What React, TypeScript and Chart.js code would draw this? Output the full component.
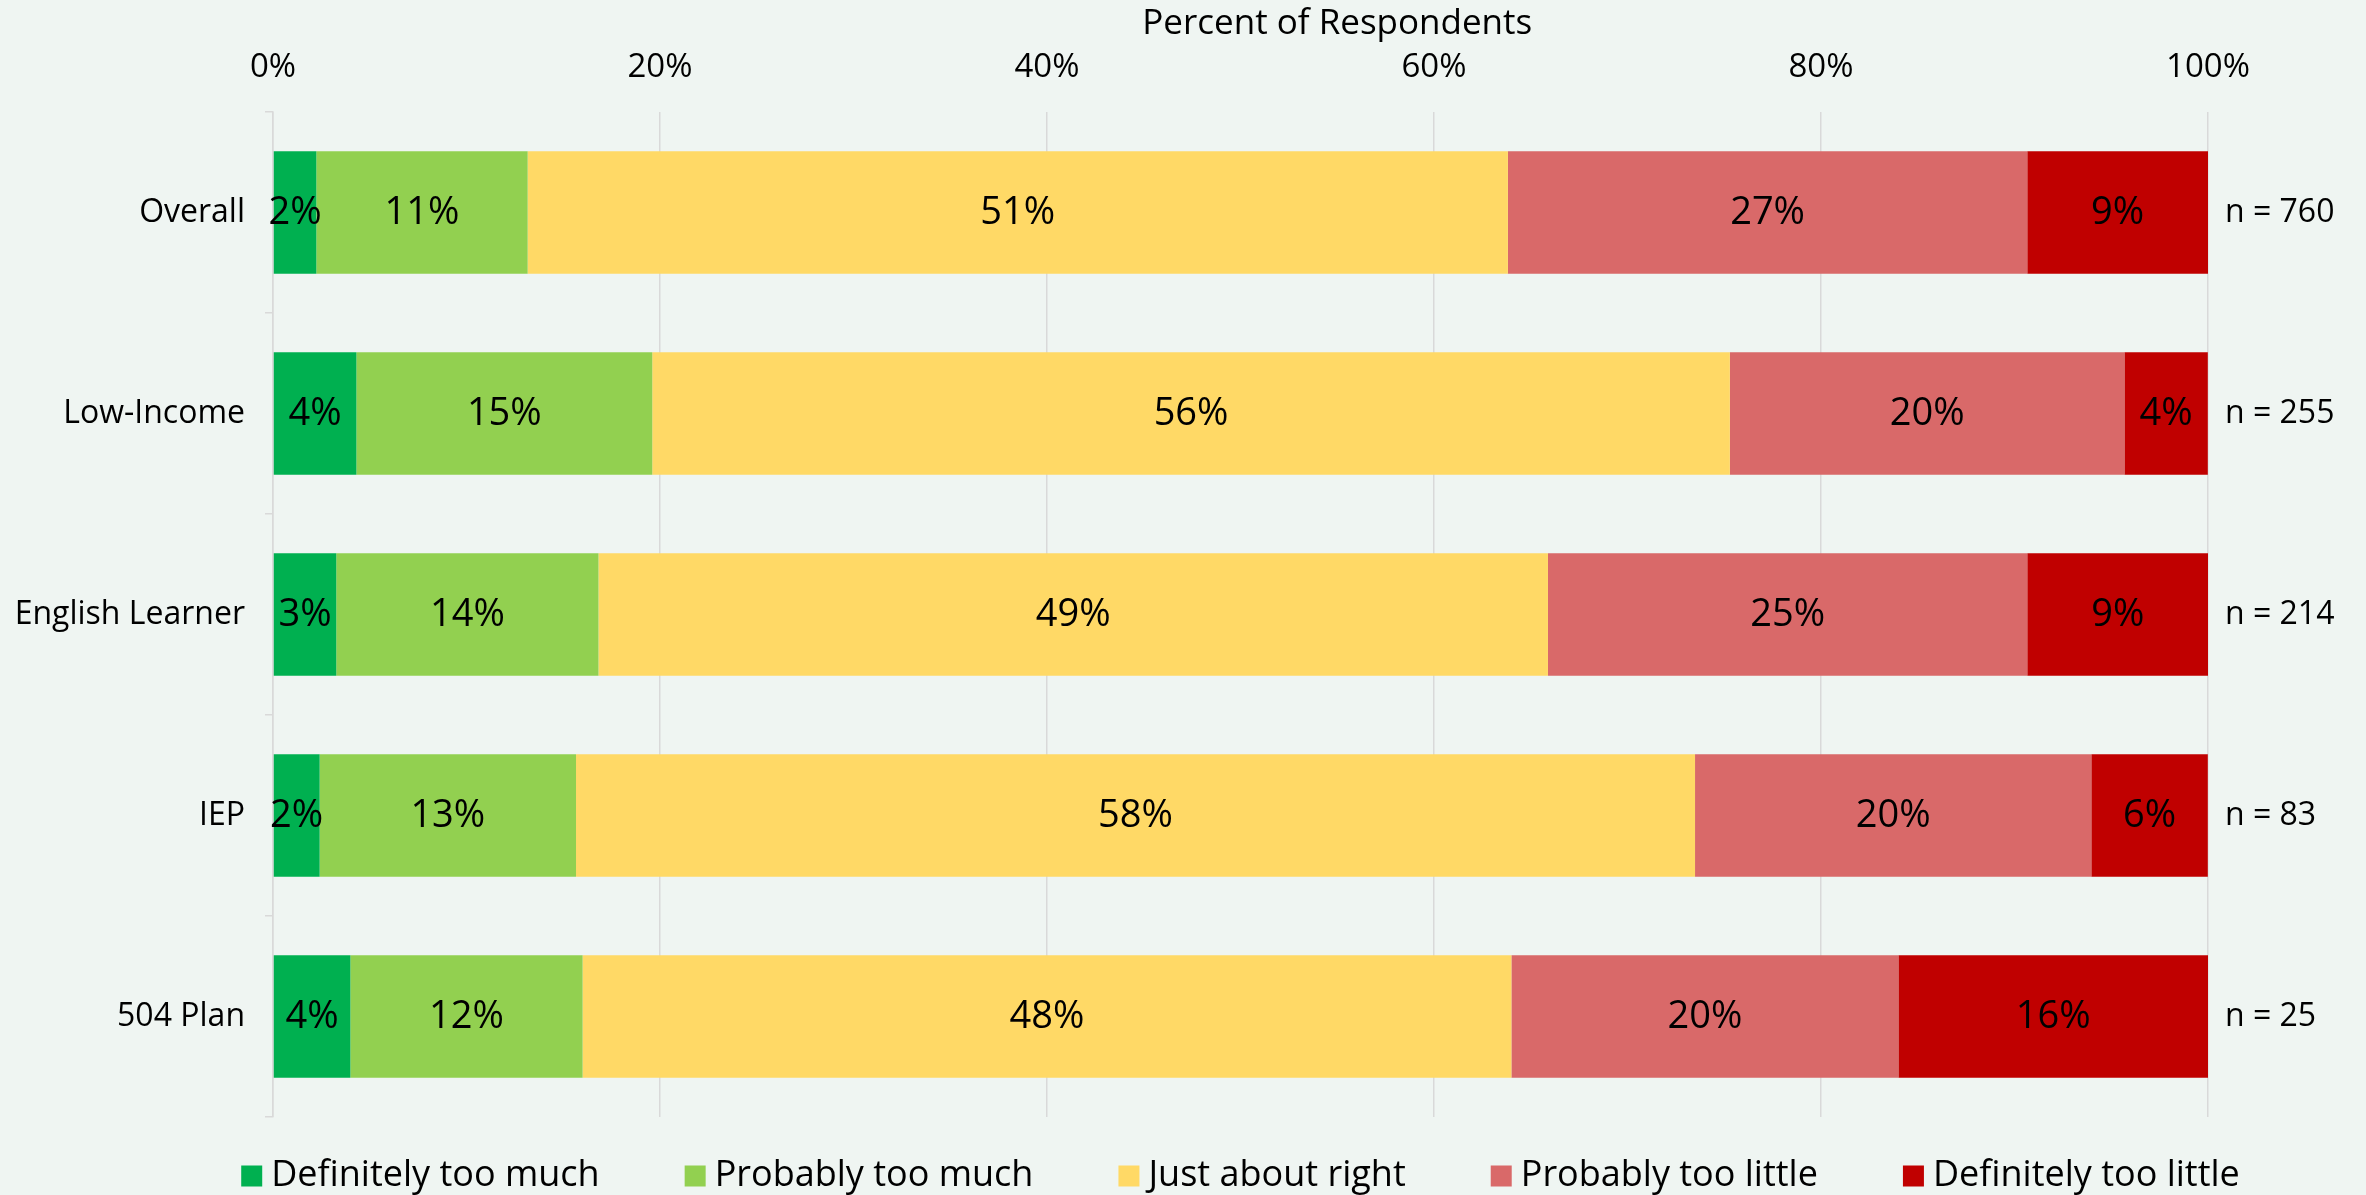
import React, { useEffect, useRef } from "react";
import { Chart, registerables } from "chart.js";

Chart.register(...registerables);

const categories = ["Overall", "Low-Income", "English Learner", "IEP", "504 Plan"];
const sampleSizes = ["n = 760", "n = 255", "n = 214", "n = 83", "n = 25"];
const seriesNames = [
  "Definitely too much",
  "Probably too much",
  "Just about right",
  "Probably too little",
  "Definitely too little",
];
const seriesColors = ["#00B050", "#92D050", "#FFD966", "#D96969", "#C00000"];

const definitelyTooMuch = [2.24, 4.31, 3.27, 2.41, 4];
const probablyTooMuch = [10.92, 15.29, 13.55, 13.25, 12];
const justAboutRight = [50.66, 55.69, 49.07, 57.83, 48];
const probablyTooLittle = [26.84, 20.39, 24.77, 20.48, 20];
const definitelyTooLittle = [9.34, 4.31, 9.35, 6.02, 16];

const xTickValues = [0, 20, 40, 60, 80, 100];
const axisTitle = "Percent of Respondents";

const FONT = '"Open Sans", sans-serif';
const BG = "#EFF5F2";
const GRID = "#D9D9D9";

const valueLabels = {
  id: "valueLabels",
  afterDatasetsDraw(chart: any) {
    const ctx = chart.ctx;
    ctx.save();
    ctx.font = `38px ${FONT}`;
    ctx.fillStyle = "#000";
    ctx.textAlign = "center";
    ctx.textBaseline = "middle";
    chart.data.datasets.forEach((ds: any, i: number) => {
      const meta = chart.getDatasetMeta(i);
      meta.data.forEach((bar: any, j: number) => {
        const p = bar.getProps(["x", "y", "base"], true);
        ctx.fillText(Math.round(ds.data[j]) + "%", (p.x + p.base) / 2, p.y + 1);
      });
    });
    ctx.restore();
  },
};

const axisTitlePlugin = {
  id: "axisTitlePlugin",
  afterDraw(chart: any) {
    const ctx = chart.ctx;
    const area = chart.chartArea;
    ctx.save();
    ctx.font = `35px ${FONT}`;
    ctx.fillStyle = "#000";
    ctx.textAlign = "center";
    ctx.textBaseline = "middle";
    ctx.fillText(axisTitle, area.left + (area.right - area.left) * 0.55, 24);
    ctx.restore();
  },
};

const customLegend = {
  id: "customLegend",
  afterDraw(chart: any) {
    const ctx = chart.ctx;
    const area = chart.chartArea;
    ctx.save();
    ctx.font = `36px ${FONT}`;
    const box = 21;
    const gap = 9;
    const spacing = 85;
    const widths = chart.data.datasets.map((ds: any) => ctx.measureText(ds.label).width);
    const total =
      widths.reduce((a: number, w: number) => a + box + gap + w, 0) +
      spacing * (widths.length - 1);
    let x = (area.left + area.right) / 2 - total / 2;
    const cy = 1176;
    chart.data.datasets.forEach((ds: any, i: number) => {
      ctx.fillStyle = ds.backgroundColor;
      ctx.fillRect(x, cy - box / 2, box, box);
      ctx.fillStyle = "#000";
      ctx.textAlign = "left";
      ctx.textBaseline = "middle";
      ctx.fillText(ds.label, x + box + gap, cy);
      x += box + gap + widths[i] + spacing;
    });
    ctx.restore();
  },
};

export default function App() {
  const canvasRef = useRef<HTMLCanvasElement | null>(null);

  useEffect(() => {
    document.body.style.margin = "0";
    const canvas = canvasRef.current;
    if (!canvas) return;
    const seriesData = [
      definitelyTooMuch,
      probablyTooMuch,
      justAboutRight,
      probablyTooLittle,
      definitelyTooLittle,
    ];
    const chart = new Chart(canvas, {
      type: "bar",
      data: {
        labels: categories,
        datasets: seriesNames.map((name, i) => ({
          label: name,
          data: seriesData[i],
          backgroundColor: seriesColors[i],
          borderWidth: 0,
          categoryPercentage: 1,
          barPercentage: 0.61,
        })),
      },
      options: {
        indexAxis: "y",
        responsive: false,
        animation: false,
        devicePixelRatio: 1,
        layout: { padding: { left: 0, right: 0, top: 0, bottom: 78 } },
        plugins: {
          legend: { display: false },
          tooltip: { enabled: false },
        },
        scales: {
          x: {
            position: "top",
            stacked: true,
            min: 0,
            max: 100,
            afterBuildTicks: (scale: any) => {
              scale.ticks = xTickValues.map((v) => ({ value: v }));
            },
            ticks: {
              callback: (v: any) => v + "%",
              font: { family: FONT, size: 33 },
              color: "#000",
              padding: 25,
              maxRotation: 0,
            },
            grid: { color: GRID, lineWidth: 1.5, drawTicks: false },
            border: { display: false },
            title: { display: false },
            afterFit: (scale: any) => {
              scale.height = 112;
            },
          },
          y: {
            stacked: true,
            ticks: { font: { family: FONT, size: 32 }, color: "#000", padding: 20 },
            grid: { drawOnChartArea: false, drawTicks: true, tickLength: 8, color: GRID, lineWidth: 1.5 },
            border: { color: GRID, width: 1.5 },
            afterFit: (scale: any) => {
              scale.width = 273;
            },
          },
          y2: {
            type: "category",
            position: "right",
            labels: sampleSizes,
            offset: true,
            grid: { display: false, drawTicks: false },
            border: { display: false },
            ticks: { font: { family: FONT, size: 32 }, color: "#000", padding: 17 },
            afterFit: (scale: any) => {
              scale.width = 158;
            },
          },
        },
      },
      plugins: [valueLabels, axisTitlePlugin, customLegend],
    } as any);
    return () => chart.destroy();
  }, []);

  return (
    <div style={{ position: "fixed", left: 0, top: 0, width: 2366, height: 1195, background: BG }}>
      <canvas ref={canvasRef} width={2366} height={1195} style={{ display: "block" }} />
    </div>
  );
}
